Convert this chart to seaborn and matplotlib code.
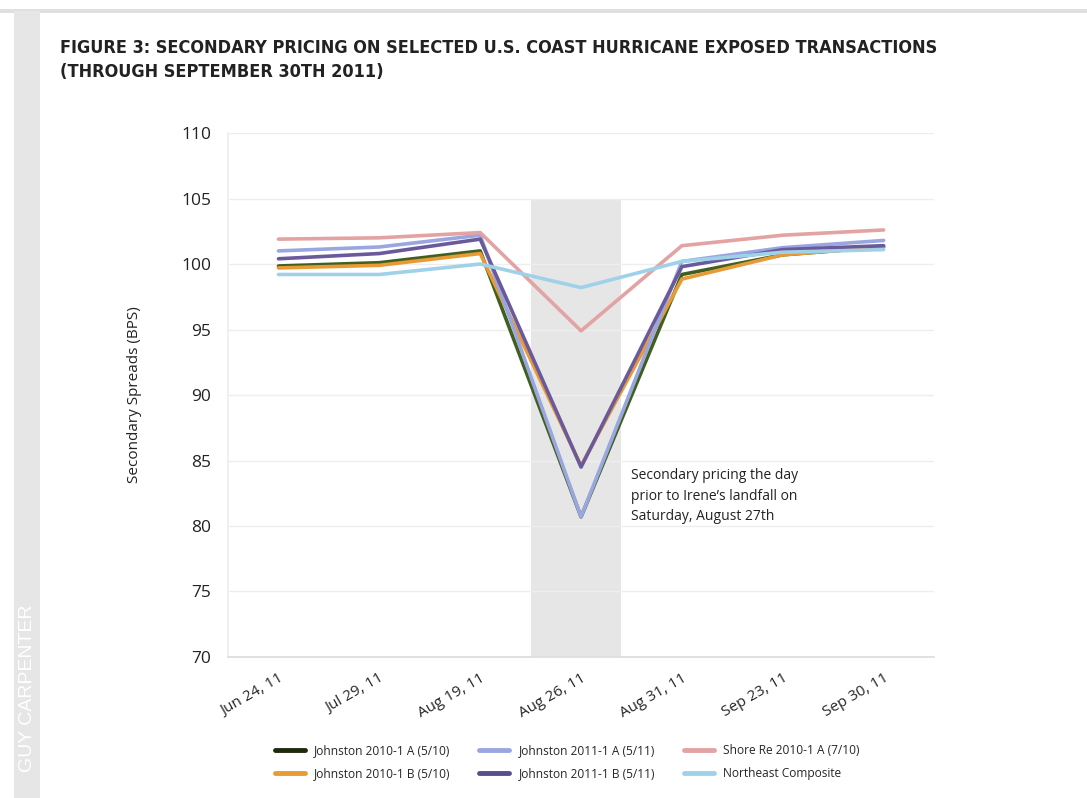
import numpy as np
import pandas as pd
import matplotlib
matplotlib.use("Agg")
import matplotlib.pyplot as plt
import seaborn as sns

dates = ["Jun 24, 11", "Jul 29, 11", "Aug 19, 11", "Aug 26, 11",
         "Aug 31, 11", "Sep 23, 11", "Sep 30, 11"]

johnston_2010_a = [99.85, 100.1, 101.0, 80.7, 99.2, 100.7, 101.3]
johnston_2010_b = [99.7, 99.9, 100.8, 84.6, 98.85, 100.7, 101.3]
johnston_2011_a = [101.0, 101.3, 102.2, 80.7, 100.2, 101.25, 101.8]
johnston_2011_b = [100.4, 100.8, 101.9, 84.5, 99.8, 101.1, 101.4]
shore_re_2010_a = [101.9, 102.0, 102.4, 94.9, 101.4, 102.2, 102.6]
northeast_comp = [99.2, 99.2, 100.0, 98.2, 100.2, 100.9, 101.1]

series_names = ["Johnston 2010-1 A (5/10)", "Johnston 2010-1 B (5/10)",
                "Johnston 2011-1 A (5/11)", "Johnston 2011-1 B (5/11)",
                "Shore Re 2010-1 A (7/10)", "Northeast Composite"]
series_values = [johnston_2010_a, johnston_2010_b, johnston_2011_a,
                 johnston_2011_b, shore_re_2010_a, northeast_comp]

palette = {
    "Johnston 2010-1 A (5/10)": "#41601f",
    "Johnston 2010-1 B (5/10)": "#e89a35",
    "Johnston 2011-1 A (5/11)": "#9aa6e0",
    "Johnston 2011-1 B (5/11)": "#6a5a9c",
    "Shore Re 2010-1 A (7/10)": "#e3a3a3",
    "Northeast Composite": "#9fd2e8",
}

rows = []
for name, vals in zip(series_names, series_values):
    for i, v in enumerate(vals):
        rows.append({"pos": i, "date": dates[i], "series": name, "value": v})
df = pd.DataFrame(rows)

sns.set_theme(style="white")
plt.rcParams["font.family"] = ["Open Sans", "DejaVu Sans"]

fig = plt.figure(figsize=(10.87, 7.98), dpi=100)

# page decoration: top rule and left brand strip
fig.add_artist(plt.Rectangle((0, 0.984), 1, 0.005, transform=fig.transFigure,
                             color="#e0e0e0", lw=0))
fig.add_artist(plt.Rectangle((0.013, 0), 0.024, 0.986, transform=fig.transFigure,
                             color="#e6e6e6", lw=0))
fig.text(0.025, 0.137, "GUY CARPENTER", rotation=90, ha="center", va="center",
         color="white", fontsize=14, family=["Liberation Sans", "DejaVu Sans"])

fig.text(0.055, 0.925, "FIGURE 3: SECONDARY PRICING ON SELECTED U.S. COAST HURRICANE EXPOSED TRANSACTIONS\n(THROUGH SEPTEMBER 30TH 2011)",
         ha="left", va="center", fontsize=13, fontweight="bold", color="#222222",
         family=["Liberation Sans Narrow", "DejaVu Sans"], fontstretch="condensed",
         linespacing=1.45)

ax = fig.add_axes([0.2098, 0.1767, 0.6495, 0.6566])

# shaded landfall window
ax.fill_between([2.5, 3.4], 70, 105, color="#e6e6e6", lw=0, zorder=0)

sns.lineplot(data=df, x="pos", y="value", hue="series", hue_order=series_names,
             palette=palette, linewidth=2.6, sort=False, legend=False, ax=ax,
             zorder=3)

ax.set_ylim(70, 110)
ax.set_yticks(np.arange(70, 111, 5))
ax.set_xlim(-0.5, 6.5)
ax.set_xticks(np.arange(-0.5, 7, 1))
ax.set_xticklabels([])
ax.set_xticks(range(len(dates)), labels=dates, minor=True)
ax.tick_params(axis="x", which="major", length=4, color="#cccccc", width=0.8)
ax.tick_params(axis="x", which="minor", length=0, labelsize=11, pad=10)
for lab in ax.get_xticklabels(minor=True):
    lab.set_rotation(30)
    lab.set_ha("right")
    lab.set_rotation_mode("anchor")
ax.tick_params(axis="y", length=0, labelsize=12.5, pad=12, labelcolor="#222222")
ax.yaxis.grid(True, color="#eeeeee", lw=1)
ax.set_axisbelow(True)
for s in ["top", "right"]:
    ax.spines[s].set_visible(False)
ax.spines["left"].set_color("#eeeeee")
ax.spines["bottom"].set_color("#dddddd")
ax.set_xlabel("")
ax.set_ylabel("Secondary Spreads (BPS)", fontsize=11, labelpad=28, color="#222222")

ax.text(3.5, 84.4, "Secondary pricing the day\nprior to Irene\u2019s landfall on\nSaturday, August 27th",
        ha="left", va="top", fontsize=10, color="#222222", linespacing=1.5)

handles = [plt.Line2D([], [], color=palette[n], lw=3.5) for n in series_names]
handles[0].set_color("#1e2a0c")
handles[3].set_color("#5a4e8a")
fig.legend(handles, series_names, loc="center", bbox_to_anchor=(0.522, 0.045),
           ncol=3, frameon=False, fontsize=8.6, handlelength=2.5,
           columnspacing=2.4, handletextpad=0.8, labelspacing=0.85)

fig.savefig("out.png", dpi=100, facecolor="white")
